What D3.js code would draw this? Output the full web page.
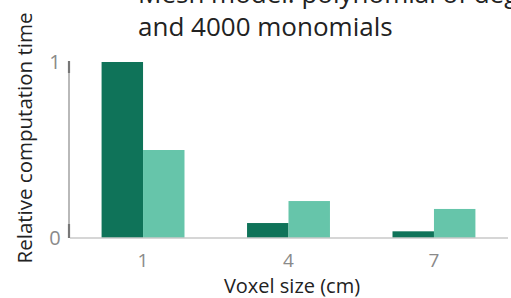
<!DOCTYPE html>
<html>
<head>
<meta charset="utf-8">
<script src="https://cdn.jsdelivr.net/npm/d3@7"></script>
<style>
  body { margin: 0; background: #fff; }
  text { font-family: "Open Sans", sans-serif; }
</style>
</head>
<body>
<div id="chart"></div>
<script>
// voxel sizes on the x axis
let voxelSizes = ["1", "4", "7"];
// two series, relative computation time
let seriesNames = ["dark", "light"];
let darkValues = [1, 0.085, 0.038];
let lightValues = [0.5, 0.21, 0.165];
let yTicks = [0, 1];

let width = 511, height = 298;
let colors = { dark: "#0f7359", light: "#66c5aa" };

let svg = d3.select("#chart").append("svg")
  .attr("width", width).attr("height", height);

// scales
let xScale = d3.scaleBand()
  .domain(voxelSizes)
  .range([69, 508])
  .paddingInner(0.43)
  .paddingOuter(0.224);

let xSub = d3.scaleBand()
  .domain(seriesNames)
  .range([0, xScale.bandwidth()]);

let yScale = d3.scaleLinear()
  .domain([0, 1])
  .range([238, 62]);

// table built from the arrays
let rows = [];
voxelSizes.forEach((v, i) => {
  rows.push({ voxel: v, series: "dark", value: darkValues[i] });
  rows.push({ voxel: v, series: "light", value: lightValues[i] });
});

// bars
svg.append("g")
  .selectAll(".bar")
  .data(rows)
  .enter()
  .append("rect")
  .attr("class", "bar")
  .attr("x", d => xScale(d.voxel) + xSub(d.series))
  .attr("width", xSub.bandwidth())
  .attr("y", d => yScale(d.value))
  .attr("height", d => yScale(0) - yScale(d.value))
  .attr("fill", d => colors[d.series]);

// x baseline
svg.append("line")
  .attr("x1", 70).attr("x2", 508)
  .attr("y1", yScale(0)).attr("y2", yScale(0))
  .attr("stroke", "#c8c8c8").attr("stroke-width", 1.5);

// y axis line with darker end marks
svg.append("line")
  .attr("x1", 69).attr("x2", 69)
  .attr("y1", yScale(1)).attr("y2", yScale(0))
  .attr("stroke", "#8a8a8a").attr("stroke-width", 1.2);
svg.append("line")
  .attr("x1", 69).attr("x2", 69)
  .attr("y1", yScale(1) - 1).attr("y2", yScale(1) + 11)
  .attr("stroke", "#777").attr("stroke-width", 2.2);
svg.append("line")
  .attr("x1", 69).attr("x2", 69)
  .attr("y1", yScale(0) - 14).attr("y2", yScale(0))
  .attr("stroke", "#777").attr("stroke-width", 2.2);

// y tick labels
svg.selectAll(".ytick")
  .data(yTicks)
  .enter()
  .append("text")
  .attr("class", "ytick")
  .attr("x", 55)
  .attr("y", d => yScale(d) + 7)
  .attr("text-anchor", "middle")
  .attr("fill", "#8a8a8a")
  .style("font-size", "20px")
  .text(d => d);

// x category labels
svg.selectAll(".xtick")
  .data(voxelSizes)
  .enter()
  .append("text")
  .attr("class", "xtick")
  .attr("x", d => xScale(d) + xScale.bandwidth() / 2)
  .attr("y", 267)
  .attr("text-anchor", "middle")
  .attr("fill", "#8a8a8a")
  .style("font-size", "19px")
  .text(d => d);

// axis titles
svg.append("text")
  .attr("x", 292).attr("y", 293)
  .attr("text-anchor", "middle")
  .attr("fill", "#222")
  .style("font-size", "20px")
  .text("Voxel size (cm)");

svg.append("text")
  .attr("transform", "translate(32,138) rotate(-90)")
  .attr("text-anchor", "middle")
  .attr("fill", "#222")
  .style("font-size", "20.5px")
  .text("Relative computation time");

// title (first line cut off at the top)
svg.append("text")
  .attr("x", 138).attr("y", 3)
  .attr("fill", "#222")
  .style("font-size", "26px")
  .text("Mesh model: polynomial of degree 9,");
svg.append("text")
  .attr("x", 138).attr("y", 36)
  .attr("fill", "#222")
  .style("font-size", "26px")
  .text("and 4000 monomials");
</script>
</body>
</html>
